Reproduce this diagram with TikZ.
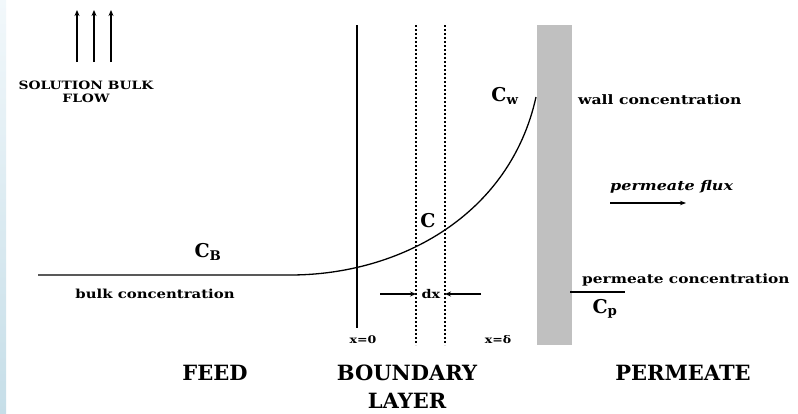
\documentclass[tikz,border=0pt]{standalone}
\usepackage{fontspec}
\setmainfont{DejaVu Serif}
\newfontfamily\widefont[FakeStretch=1.2]{DejaVu Serif}
\usetikzlibrary{arrows.meta}
\definecolor{wallgray}{HTML}{C0C0C0}
\definecolor{stripA}{HTML}{F2F8FB}
\definecolor{stripB}{HTML}{C6DEE8}
\tikzset{
  small/.style={inner sep=0pt, font=\widefont\bfseries\fontsize{#1}{#1}\selectfont},
  big/.style={inner sep=0pt, font=\bfseries\fontsize{21}{24}\selectfont},
  cfont/.style={inner sep=0pt, font=\bfseries\fontsize{19}{20}\selectfont},
  thick line/.style={line width=1.4pt},
  dotline/.style={line width=1.6pt, dash pattern=on 1.6pt off 2.4pt},
  arr/.style={line width=1.3pt, -{Stealth[length=6pt,width=5pt]}},
}
\begin{document}
\begin{tikzpicture}[x=1pt,y=-1pt]
\useasboundingbox (0,0) rectangle (798,413);
\fill[white] (0,0) rectangle (798,413);
% left blue strip
\shade[top color=stripA, bottom color=stripB] (0,0) rectangle (6,413);

% bulk flow arrows
\foreach \i/\x in {1/77,2/94,3/111}{
  \coordinate (fa\i) at (\x,62);
  \coordinate (fb\i) at (\x,10);
  \draw[arr] (fa\i) -- (fb\i);
}
\node[small=11.5, align=center] (flow) at (86,92) {SOLUTION BULK\\[2pt]FLOW};

% membrane wall
\node[fill=wallgray, draw=none, minimum width=35pt, minimum height=320pt, inner sep=0pt, anchor=north west] (wall) at (537,25) {};

% boundary layer edge and slice
\coordinate (bl1) at (357,25);
\coordinate (bl2) at (357,328);
\draw[thick line] (bl1) -- (bl2);
\coordinate (d1a) at (416,25);
\coordinate (d1b) at (416,345);
\coordinate (d2a) at (445,25);
\coordinate (d2b) at (445,345);
\draw[dotline] (d1a) -- (d1b);
\draw[dotline] (d2a) -- (d2b);

% concentration profile
\coordinate (b0) at (38,275);
\coordinate (b1) at (290,275);
\coordinate (cw) at (536,97);
\draw[line width=1.3pt] (b0) -- (b1) .. controls (400,275) and (510,215) .. (cw);

% labels
\node[cfont] (CB) at (208,252) {C\textsubscript{B}};
\node[small=12.4] (bulk) at (155,294) {bulk concentration};
\node[cfont] (Cw) at (505,96) {C\textsubscript{w}};
\node[cfont] (C) at (428,221) {C};
\node[small=13, anchor=west] (wallc) at (578,100) {wall concentration};
\node[inner sep=0pt, font=\widefont\bfseries\itshape\fontsize{13.3}{14}\selectfont, anchor=west] (flux) at (610,187) {permeate flux};
\coordinate (fx1) at (610,203);
\coordinate (fx2) at (686,203);
\draw[line width=1.1pt, -{Stealth[length=6pt,width=4.5pt]}] (fx1) -- (fx2);

\node[small=12.8, anchor=west] (permc) at (582,280) {permeate concentration};
\coordinate (pl1) at (570,292);
\coordinate (pl2) at (625,292);
\draw[line width=1.2pt] (pl1) -- (pl2);
\node[cfont] (Cp) at (605,309) {C\textsubscript{p}};

% dx
\node[small=12] (dx) at (431,294) {dx};
\coordinate (dxl) at (380,294);
\coordinate (dxr) at (481,294);
\draw[line width=1.2pt, -{Stealth[length=6pt,width=5pt]}] (dxl) -- (d1a |- dxl);
\draw[line width=1.2pt, -{Stealth[length=6pt,width=5pt]}] (dxr) -- (d2a |- dxr);

\node[small=10.5] (x0) at (363,340) {x=0};
\node[small=10.5] (xd) at (498,340) {x=δ};

% regions
\node[big] (feed) at (215,373) {FEED};
\node[big] (blay1) at (407,373) {BOUNDARY};
\node[big] (blay2) at (407,401) {LAYER};
\node[big] (perm) at (683,373) {PERMEATE};
\end{tikzpicture}
\end{document}
